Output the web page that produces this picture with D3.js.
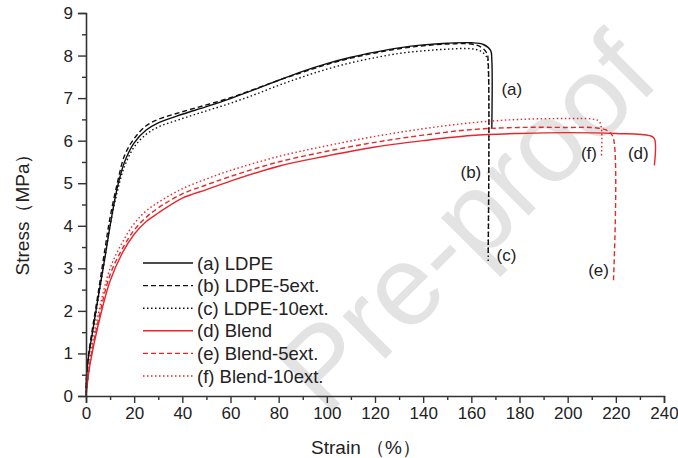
<!DOCTYPE html>
<html><head><meta charset="utf-8">
<script src="https://cdn.jsdelivr.net/npm/d3@7"></script>
<style>body{margin:0;background:#fff}svg{display:block}text{font-family:"Liberation Sans",Arial,sans-serif}</style>
</head><body><svg id="c" width="678" height="458"></svg>
<script>
const xTicks=[0,20,40,60,80,100,120,140,160,180,200,220,240];
const yTicks=[0,1,2,3,4,5,6,7,8,9];
const seriesNames=["(a) LDPE","(b) LDPE-5ext.","(c) LDPE-10ext.","(d) Blend","(e) Blend-5ext.","(f) Blend-10ext."];
const seriesColors=["#111","#111","#111","#e8262b","#e8262b","#e8262b"];
const seriesDash=[null,"5,3","1.5,2.5",null,"5,3","1.5,2.5"];
const ldpeA=[[0,0],[0.3,0.5],[1,0.9],[3,1.6],[5,2.3],[8,3.3],[10,4.0],[13,4.9],[16,5.5],[20,5.95],[25,6.25],[30,6.42],[40,6.62],[50,6.8],[60,6.99],[70,7.2],[80,7.42],[90,7.63],[100,7.81],[110,7.96],[120,8.08],[130,8.18],[140,8.25],[150,8.29],[160,8.3],[165,8.26],[168,8.12],[168.5,7.9],[168.5,6.3]];
const ldpeB=[[0,0],[0.3,0.5],[1,0.95],[3,1.7],[5,2.4],[8,3.5],[10,4.2],[13,5.0],[16,5.65],[20,6.05],[25,6.35],[30,6.5],[40,6.68],[50,6.84],[60,7.01],[70,7.21],[80,7.42],[90,7.61],[100,7.79],[110,7.94],[120,8.06],[130,8.16],[140,8.23],[150,8.27],[160,8.27],[164,8.2],[166.5,8.05],[167,7.85],[167,3.3]];
const ldpeC=[[0,0],[0.3,0.5],[1,0.9],[3,1.55],[5,2.25],[8,3.3],[10,4.0],[13,4.8],[16,5.4],[20,5.85],[25,6.15],[30,6.32],[40,6.52],[50,6.7],[60,6.88],[70,7.08],[80,7.3],[90,7.5],[100,7.68],[110,7.83],[120,7.95],[130,8.05],[140,8.11],[150,8.15],[160,8.16],[164,8.1],[166.5,7.95],[167,7.75],[167,3.15]];
const blendD=[[0,0],[1,0.5],[2,0.85],[5,1.65],[10,2.7],[15,3.35],[20,3.8],[25,4.1],[30,4.3],[40,4.65],[50,4.85],[60,5.05],[80,5.4],[100,5.64],[120,5.85],[140,6.0],[160,6.12],[180,6.17],[200,6.19],[220,6.17],[234,6.12],[236,6.05],[236,5.42]];
const blendE=[[0,0],[1,0.5],[2,0.9],[5,1.75],[10,2.85],[15,3.45],[20,3.9],[25,4.2],[30,4.42],[40,4.75],[50,4.96],[60,5.16],[80,5.5],[100,5.75],[120,5.96],[140,6.13],[160,6.26],[180,6.31],[200,6.31],[212,6.3],[217,6.22],[219,6.05],[219,2.68]];
const blendF=[[0,0],[1,0.55],[2,1.0],[5,1.9],[10,3.0],[15,3.6],[20,4.05],[25,4.35],[30,4.55],[40,4.87],[50,5.1],[60,5.3],[80,5.63],[100,5.88],[120,6.1],[140,6.28],[160,6.42],[180,6.5],[200,6.52],[210,6.51],[213,6.46],[214,6.3],[214,5.6]];
const allSeries=[ldpeA,ldpeB,ldpeC,blendD,blendE,blendF];
const curveLabels=[["(a)",172.5,7.08],["(b)",155.5,5.12],["(c)",170.5,3.17],["(d)",225,5.57],["(f)",205.5,5.57],["(e)",208.5,2.82]];

const svg=d3.select("#c");
const x=d3.scaleLinear().domain([0,240]).range([86,664]);
const y=d3.scaleLinear().domain([0,9]).range([396,13]);

// watermark
svg.append("text").attr("transform","translate(662,82) rotate(-45)")
 .attr("text-anchor","end").attr("font-size",114).attr("fill","#e3e3e3")
 .text("Pre-proof");

const line=d3.line().x(d=>x(d[0])).y(d=>y(d[1])).curve(d3.curveCatmullRom.alpha(0.5));
allSeries.forEach((s,i)=>{
 svg.append("path").attr("d",line(s)).attr("fill","none")
  .attr("stroke",seriesColors[i]).attr("stroke-width",1.4)
  .attr("stroke-dasharray",seriesDash[i]);
});

// axes
const ax=svg.append("g").attr("transform","translate(0,396)")
 .call(d3.axisBottom(x).tickValues(xTicks).tickSize(7).tickPadding(4).tickFormat(d3.format("d")));
const ay=svg.append("g").attr("transform","translate(86,0)")
 .call(d3.axisLeft(y).tickValues(yTicks).tickSize(8).tickPadding(5).tickFormat(d3.format("d")));
const axm=svg.append("g").attr("transform","translate(0,396)")
 .call(d3.axisBottom(x).tickValues(d3.range(10,240,20)).tickSize(4).tickFormat(""));
const aym=svg.append("g").attr("transform","translate(86,0)")
 .call(d3.axisLeft(y).tickValues(d3.range(0.5,9,1)).tickSize(4).tickFormat(""));
[ax,ay,axm,aym].forEach(g=>{
 g.selectAll("path").attr("stroke","#333").attr("stroke-width",1.6);
 g.selectAll("line").attr("stroke","#333").attr("stroke-width",1.4);
 g.selectAll("text").attr("font-size",17).attr("fill","#222");
});
axm.select("path").remove(); aym.select("path").remove();

svg.append("text").attr("x",366).attr("y",454).attr("text-anchor","middle")
 .attr("font-size",19).attr("fill","#222").text("Strain （%）");
svg.append("text").attr("transform","translate(29,210) rotate(-90)").attr("text-anchor","middle")
 .attr("font-size",19).attr("fill","#222").text("Stress（MPa）");

// curve labels
curveLabels.forEach(l=>{
 svg.append("text").attr("x",x(l[1])).attr("y",y(l[2])).attr("font-size",17).attr("fill","#222").text(l[0]);
});

// legend
seriesNames.forEach((n,i)=>{
 const yy=263+i*22.6;
 svg.append("line").attr("x1",143).attr("x2",193).attr("y1",yy).attr("y2",yy)
  .attr("stroke",seriesColors[i]).attr("stroke-width",1.4).attr("stroke-dasharray",seriesDash[i]);
 svg.append("text").attr("x",197).attr("y",yy+6.5).attr("font-size",18.5).attr("fill","#222").text(n);
});
</script></body></html>
